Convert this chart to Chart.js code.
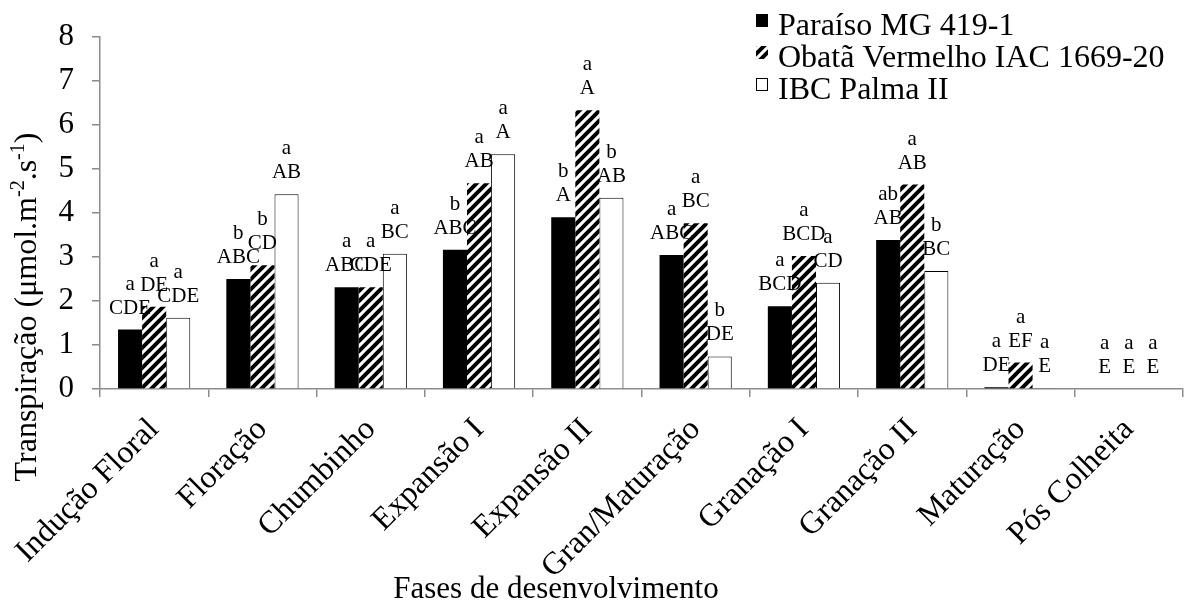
<!DOCTYPE html>
<html>
<head>
<meta charset="utf-8">
<script src="https://cdn.jsdelivr.net/npm/chart.js@4.4.1/dist/chart.umd.min.js"></script>
<style>
  body { margin: 0; background: #fff; }
  #wrap { width: 1187px; height: 610px; }
</style>
</head>
<body>
<div id="wrap"><canvas id="chart" width="1187" height="610"></canvas></div>
<script>
// fases de desenvolvimento
const fases = ['Indução Floral', 'Floração', 'Chumbinho', 'Expansão I', 'Expansão II',
  'Gran/Maturação', 'Granação I', 'Granação II', 'Maturação', 'Pós Colheita'];

// transpiração por cultivar
const paraiso = [1.35, 2.50, 2.31, 3.16, 3.90, 3.04, 1.88, 3.38, 0.04, 0];
const obata   = [1.87, 2.81, 2.31, 4.67, 6.33, 3.76, 3.02, 4.64, 0.60, 0];
const palma   = [1.62, 4.42, 3.07, 5.33, 4.34, 0.74, 2.41, 2.68, 0.02, 0];

// letras (minúscula / maiúscula)
const letrasParaiso = [['a','CDE'],['b','ABC'],['a','ABC'],['b','ABC'],['b','A'],['a','ABC'],['a','BCD'],['ab','AB'],['a','DE'],['a','E']];
const letrasObata   = [['a','DE'],['b','CD'],['a','CDE'],['a','AB'],['a','A'],['a','BC'],['a','BCD'],['a','AB'],['a','EF'],['a','E']];
const letrasPalma   = [['a','CDE'],['a','AB'],['a','BC'],['a','A'],['b','AB'],['b','DE'],['a','CD'],['b','BC'],['a','E'],['a','E']];

const yTicks = [0, 1, 2, 3, 4, 5, 6, 7, 8];

const serif = '"Liberation Serif", "Times New Roman", serif';

// padrão listrado (diagonal larga para cima)
function makeHatch() {
  const c = document.createElement('canvas');
  c.width = 10; c.height = 10;
  const g = c.getContext('2d');
  g.fillStyle = '#fff';
  g.fillRect(0, 0, 10, 10);
  g.strokeStyle = '#000';
  g.lineWidth = 4;
  g.beginPath();
  g.moveTo(-2, 12); g.lineTo(12, -2);
  g.moveTo(-7, 7); g.lineTo(7, -7);
  g.moveTo(3, 17); g.lineTo(17, 3);
  g.stroke();
  return g.createPattern(c, 'repeat');
}
const hatch = makeHatch();

const letras = [letrasParaiso, letrasObata, letrasPalma];

// rótulos de letras acima das barras
const labelPlugin = {
  id: 'letras',
  afterDatasetsDraw(chart) {
    const ctx = chart.ctx;
    ctx.save();
    ctx.fillStyle = '#000';
    ctx.font = '21px ' + serif;
    ctx.textAlign = 'center';
    ctx.textBaseline = 'alphabetic';
    chart.data.datasets.forEach((ds, i) => {
      chart.getDatasetMeta(i).data.forEach((bar, j) => {
        const l = letras[i][j];
        ctx.fillText(l[0], bar.x, bar.y - 40);
        ctx.fillText(l[1], bar.x, bar.y - 16);
      });
    });
    ctx.restore();
  }
};

// legenda e títulos dos eixos
const extrasPlugin = {
  id: 'extras',
  afterDraw(chart) {
    const ctx = chart.ctx;
    ctx.save();
    ctx.fillStyle = '#000';
    ctx.font = '32px ' + serif;
    ctx.textBaseline = 'alphabetic';
    ctx.textAlign = 'left';
    chart.data.datasets.forEach((ds, i) => {
      const y = 35 + i * 32;
      ctx.fillStyle = ds.backgroundColor;
      ctx.fillRect(756, y - 21, 12, 13);
      if (ds.borderWidth) {
        ctx.strokeStyle = '#000';
        ctx.lineWidth = 1;
        ctx.strokeRect(756.5, y - 20.5, 11, 12);
      }
      ctx.fillStyle = '#000';
      ctx.fillText(ds.label, 778, y);
    });

    // título eixo x
    ctx.textAlign = 'center';
    ctx.font = '31px ' + serif;
    ctx.fillText('Fases de desenvolvimento', 556, 598);

    // título eixo y com sobrescritos
    const parts = [['Transpiração (μmol.m', 0], ['-2', 1], ['.s', 0], ['-1', 1], [')', 0]];
    const fontFor = s => (s ? '20px ' : '32px ') + serif;
    let total = 0;
    parts.forEach(p => { ctx.font = fontFor(p[1]); total += ctx.measureText(p[0]).width; });
    ctx.translate(36, 307);
    ctx.rotate(-Math.PI / 2);
    ctx.textAlign = 'left';
    let x = -total / 2;
    parts.forEach(p => {
      ctx.font = fontFor(p[1]);
      ctx.fillText(p[0], x, p[1] ? -12 : 0);
      x += ctx.measureText(p[0]).width;
    });
    ctx.restore();
  }
};

const axisGrey = '#8c8c8c';

const chart = new Chart(document.getElementById('chart'), {
  type: 'bar',
  data: {
    labels: fases,
    datasets: [
      { label: 'Paraíso MG 419-1', data: paraiso, backgroundColor: '#000', borderWidth: 0 },
      { label: 'Obatã Vermelho IAC 1669-20', data: obata, backgroundColor: hatch, borderWidth: 0 },
      { label: 'IBC Palma II', data: palma, backgroundColor: '#fff', borderColor: '#000', borderWidth: 1 }
    ]
  },
  options: {
    responsive: false,
    animation: false,
    layout: { padding: { top: 29, right: 4, left: 0, bottom: 0 } },
    datasets: { bar: { categoryPercentage: 0.667, barPercentage: 1 } },
    plugins: { legend: { display: false }, tooltip: { enabled: false } },
    scales: {
      x: {
        grid: { display: true, drawOnChartArea: false, drawTicks: true, tickLength: 8, color: axisGrey, lineWidth: 1.5 },
        border: { color: axisGrey, width: 1.5 },
        ticks: { color: '#000', font: { family: serif, size: 32 }, minRotation: 45, maxRotation: 45, autoSkip: false, padding: 14 },
        afterFit(scale) { scale.height = 221; }
      },
      y: {
        min: 0, max: 8,
        grid: { display: true, drawOnChartArea: false, drawTicks: true, tickLength: 8, color: axisGrey, lineWidth: 1.5 },
        border: { color: axisGrey, width: 1.5 },
        ticks: { color: '#000', font: { family: serif, size: 31 }, padding: 18, stepSize: 1,
          callback: (v) => yTicks.includes(v) ? String(v) : '' },
        afterFit(scale) { scale.width = 100; }
      }
    }
  },
  plugins: [labelPlugin, extrasPlugin]
});
</script>
</body>
</html>
